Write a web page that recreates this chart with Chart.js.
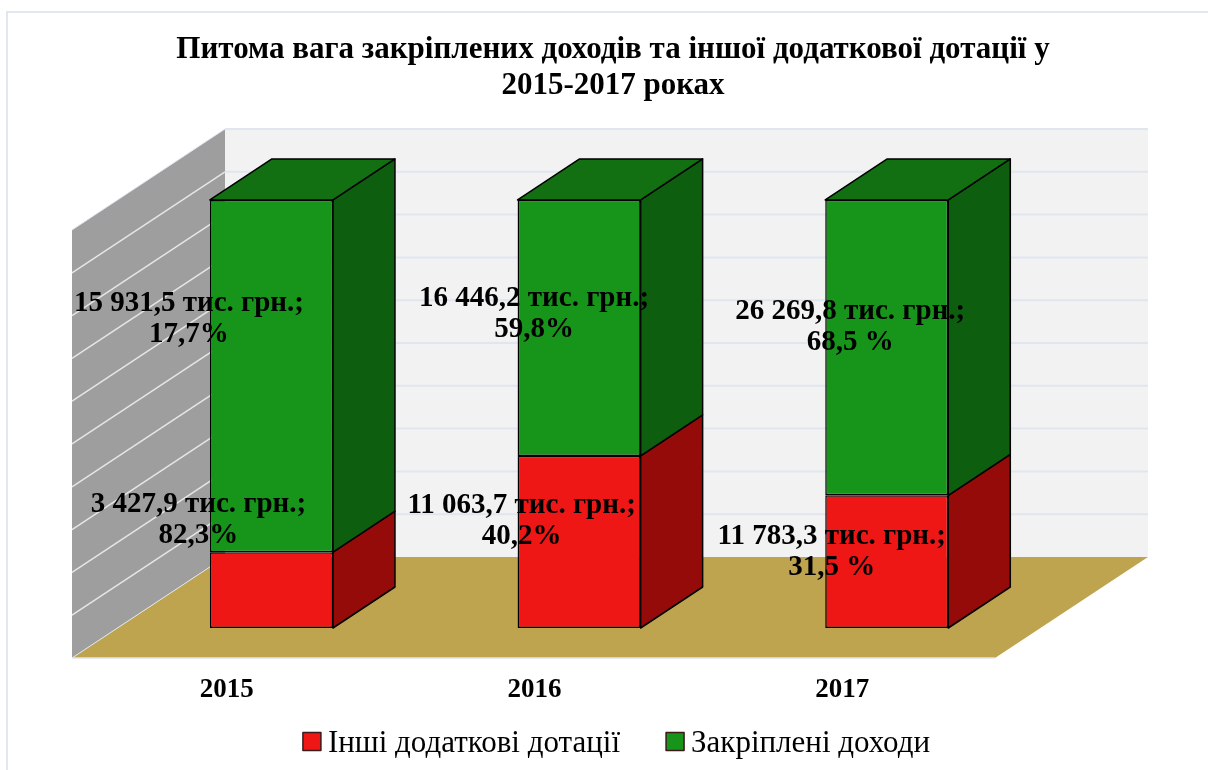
<!DOCTYPE html>
<html lang="uk">
<head>
<meta charset="utf-8">
<title>Питома вага</title>
<style>
html,body{margin:0;padding:0;width:1208px;height:770px;overflow:hidden;background:#fff}
#frame{position:absolute;left:6px;top:11px;width:1400px;height:1000px;border:2px solid #e2e6f0;box-sizing:border-box}
#wrap{position:absolute;left:0;top:0;width:1208px;height:770px;overflow:hidden}
canvas{position:absolute;left:0;top:0}
</style>
<script src="https://cdn.jsdelivr.net/npm/chart.js@4"></script>
</head>
<body>
<div id="frame"></div>
<div id="wrap"><canvas id="c" width="1208" height="770"></canvas></div>
<script>
// ---- data ----
const categories = ['2015', '2016', '2017'];
const otherSubsidies = [17.7, 40.2, 31.0];
const assignedRevenue = [82.3, 59.8, 69.0];
const otherLabels = [
  ['3 427,9 тис. грн.;', '82,3%'],
  ['11 063,7 тис. грн.;', '40,2%'],
  ['11 783,3 тис. грн.;', '31,5 %']
];
const assignedLabels = [
  ['15 931,5 тис. грн.;', '17,7%'],
  ['16 446,2 тис. грн.;', '59,8%'],
  ['26 269,8 тис. грн.;', '68,5 %']
];
const titleLines = ['Питома вага закріплених доходів та іншої додаткової дотації у', '2015-2017 роках'];
const seriesNames = ['Інші додаткові дотації', 'Закріплені доходи'];

// ---- style / layout ----
const SERIF = '"Liberation Serif","Times New Roman",serif';
const RED = '#ef1616', RED_SIDE = '#950b0a';
const GREEN = '#17941a', GREEN_SIDE = '#0e5e10', GREEN_TOP = '#127012';
const WALL_BACK = '#f2f2f2', WALL_LEFT = '#9e9e9e', FLOOR = '#bfa44f';
const GRID_BACK = '#e0e5ef', GRID_LEFT = '#e6e6e6';
// 3D projection offsets relative to the plane of the bar fronts
const FRONT = {x: -45.6, y: 30};
const BACK = {x: 107.4, y: -71};
const BAR_DEPTH = {x: 62, y: -41};
// label centre offsets from each bar's centre [series][category]
const LABEL_OFFSETS = [
  [{x: -73, y: -70}, {x: -57.5, y: -21}, {x: -55, y: -10}],
  [{x: -82.5, y: -57}, {x: -45, y: -14}, {x: -36.5, y: -21}]
];

function poly(ctx, pts, fill, stroke, lw) {
  ctx.beginPath();
  pts.forEach((p, i) => i ? ctx.lineTo(p[0], p[1]) : ctx.moveTo(p[0], p[1]));
  ctx.closePath();
  if (fill) { ctx.fillStyle = fill; ctx.fill(); }
  if (stroke) { ctx.strokeStyle = stroke; ctx.lineWidth = lw || 1.5; ctx.lineJoin = 'round'; ctx.stroke(); }
}
function seg(ctx, a, b, color, lw) {
  ctx.beginPath(); ctx.moveTo(a[0], a[1]); ctx.lineTo(b[0], b[1]);
  ctx.strokeStyle = color; ctx.lineWidth = lw; ctx.stroke();
}

const scene3d = {
  id: 'scene3d',
  beforeDatasetsDraw(chart) {
    const {ctx, chartArea: a, scales: {y}} = chart;
    ctx.save();
    const y0 = y.getPixelForValue(0), y100 = y.getPixelForValue(100);
    const fl = a.left + FRONT.x, fr = a.right + FRONT.x;
    const bl = a.left + BACK.x, br = a.right + BACK.x;
    // back wall
    poly(ctx, [[bl, y100 + BACK.y], [br, y100 + BACK.y], [br, y0 + BACK.y], [bl, y0 + BACK.y]], WALL_BACK);
    // left wall
    poly(ctx, [[fl, y100 + FRONT.y], [bl, y100 + BACK.y], [bl, y0 + BACK.y], [fl, y0 + FRONT.y]], WALL_LEFT);
    // grid lines from the axis ticks
    y.ticks.forEach(t => {
      const py = y.getPixelForValue(t.value);
      if (t.value > 0) seg(ctx, [bl, py + BACK.y], [br, py + BACK.y], GRID_BACK, 2);
      if (t.value > 0 && t.value < 100) seg(ctx, [fl, py + FRONT.y], [bl, py + BACK.y], GRID_LEFT, 1.5);
    });
    seg(ctx, [fl, y100 + FRONT.y], [bl, y100 + BACK.y], GRID_BACK, 1);
    // floor
    poly(ctx, [[fl, y0 + FRONT.y], [fr, y0 + FRONT.y], [br, y0 + BACK.y], [bl, y0 + BACK.y]], FLOOR);
    seg(ctx, [fl, y0 + FRONT.y], [fr, y0 + FRONT.y], GRID_BACK, 1.5);
    seg(ctx, [fl, y0 + FRONT.y], [bl, y0 + BACK.y], GRID_BACK, 1);
    ctx.restore();
  },
  afterDatasetsDraw(chart) {
    const {ctx} = chart;
    const d = BAR_DEPTH;
    ctx.save();
    const sides = [RED_SIDE, GREEN_SIDE];
    chart.data.datasets.forEach((ds, di) => {
      chart.getDatasetMeta(di).data.forEach(bar => {
        const r = bar.x + bar.width / 2, l = bar.x - bar.width / 2;
        const top = bar.y, bot = bar.base;
        poly(ctx, [[r, top], [r + d.x, top + d.y], [r + d.x, bot + d.y], [r, bot]], sides[di], '#000', 1.5);
        if (di === chart.data.datasets.length - 1) {
          poly(ctx, [[l, top], [l + d.x, top + d.y], [r + d.x, top + d.y], [r, top]], GREEN_TOP, '#000', 1.5);
        }
      });
    });
    // data labels
    const texts = [otherLabels, assignedLabels];
    ctx.font = 'bold 29px ' + SERIF;
    ctx.fillStyle = '#000';
    ctx.textAlign = 'center';
    ctx.textBaseline = 'middle';
    chart.data.datasets.forEach((ds, di) => {
      chart.getDatasetMeta(di).data.forEach((bar, i) => {
        const o = LABEL_OFFSETS[di][i];
        const cy = (bar.y + bar.base) / 2 + o.y;
        const lines = texts[di][i];
        lines.forEach((t, k) => ctx.fillText(t, bar.x + o.x, cy + (k - (lines.length - 1) / 2) * 31));
      });
    });
    // legend
    ctx.font = '31px ' + SERIF;
    ctx.textAlign = 'left';
    const box = 18, gap = 7, sep = 46, cx = 616.5, cyL = 741.5;
    const w = chart.data.datasets.map(ds => ctx.measureText(ds.label).width);
    let x = cx - (w[0] + w[1] + 2 * (box + gap) + sep) / 2;
    chart.data.datasets.forEach((ds, i) => {
      ctx.fillStyle = ds.backgroundColor;
      ctx.strokeStyle = '#3a1a1a';
      ctx.lineWidth = 1.5;
      ctx.fillRect(x, cyL - box / 2, box, box);
      ctx.strokeRect(x, cyL - box / 2, box, box);
      ctx.fillStyle = '#000';
      ctx.fillText(ds.label, x + box + gap, cyL + 2);
      x += box + gap + w[i] + sep;
    });
    ctx.restore();
  }
};

new Chart(document.getElementById('c'), {
  type: 'bar',
  data: {
    labels: categories,
    datasets: [
      {label: seriesNames[0], data: otherSubsidies, backgroundColor: RED, borderColor: '#000', borderWidth: 1.5, borderSkipped: false},
      {label: seriesNames[1], data: assignedRevenue, backgroundColor: GREEN, borderColor: '#000', borderWidth: 1.5, borderSkipped: false}
    ]
  },
  plugins: [scene3d],
  options: {
    responsive: false,
    animation: false,
    layout: {padding: {left: 18, right: 0, top: 0, bottom: 0}},
    datasets: {bar: {categoryPercentage: 1, barPercentage: 0.4}},
    plugins: {
      legend: {display: false},
      tooltip: {enabled: false},
      title: {
        display: true,
        text: titleLines,
        color: '#000',
        font: {family: SERIF, size: 31, weight: 'bold', lineHeight: 1.161},
        padding: {top: 32, bottom: 96}
      }
    },
    scales: {
      x: {
        stacked: true,
        grid: {display: false},
        border: {display: false},
        ticks: {
          color: '#000',
          font: {family: SERIF, size: 27, weight: 'bold'},
          labelOffset: FRONT.x + 1,
          padding: 38,
          maxRotation: 0
        },
        afterFit(s) { s.height = 142; }
      },
      y: {
        stacked: true,
        min: 0,
        max: 100,
        grid: {display: false},
        border: {display: false},
        ticks: {display: false, stepSize: 10},
        afterFit(s) { s.width = 99.6; }
      },
      yRight: {
        position: 'right',
        min: 0,
        max: 100,
        grid: {display: false},
        border: {display: false},
        ticks: {display: false},
        afterFit(s) { s.width = 167.4; }
      }
    }
  }
});
</script>
</body>
</html>
